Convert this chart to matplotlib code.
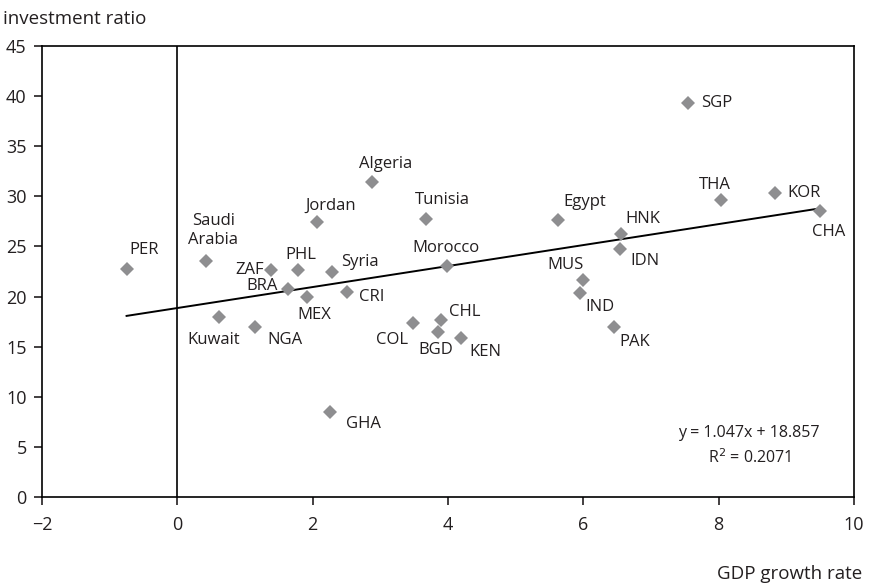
import matplotlib.pyplot as plt

plt.rcParams['font.family'] = ['Open Sans', 'DejaVu Sans']

countries = ['PER', 'Saudi\nArabia', 'ZAF', 'PHL', 'Syria', 'BRA', 'MEX', 'CRI', 'Kuwait', 'NGA',
             'Jordan', 'Algeria', 'Tunisia', 'Morocco', 'COL', 'CHL', 'BGD', 'KEN', 'Egypt',
             'HNK', 'IDN', 'MUS', 'IND', 'PAK', 'SGP', 'THA', 'KOR', 'CHA', 'GHA']
gdp_growth = [-0.75, 0.43, 1.38, 1.78, 2.28, 1.64, 1.91, 2.51, 0.62, 1.15,
              2.07, 2.87, 3.68, 3.98, 3.49, 3.89, 3.85, 4.19, 5.62,
              6.55, 6.54, 5.99, 5.95, 6.45, 7.54, 8.03, 8.83, 9.50, 2.25]
invest_ratio = [22.8, 23.5, 22.7, 22.7, 22.5, 20.8, 20.0, 20.5, 18.0, 17.0,
                27.4, 31.4, 27.7, 23.1, 17.4, 17.7, 16.5, 15.9, 27.6,
                26.2, 24.7, 21.7, 20.4, 17.0, 39.3, 29.6, 30.3, 28.5, 8.5]

# label offsets in pixels (dx, dy)
offsets = [(18, 19), (7, 31), (-21, 0), (3, 15), (28, 10), (-26, 3), (8, -18), (25, -5), (-6, -23), (30, -13),
           (13, 17), (14, 18), (16, 19), (-1, 18), (-21, -17), (24, 8), (-2, -18), (25, -14), (27, 18),
           (22, 15), (25, -12), (-17, 15), (20, -14), (21, -15), (29, 0), (-6, 15), (29, 0), (8, -21), (34, -12)]

slope = 1.047
intercept = 18.857

fig = plt.figure(figsize=(8.71, 5.87), dpi=100)
ax = fig.add_axes([0.0482, 0.1533, 0.9323, 0.7683])

ax.axvline(0, color='black', lw=1.2, zorder=1)
x_fit = [min(gdp_growth), max(gdp_growth)]
ax.plot(x_fit, [slope * v + intercept for v in x_fit], color='black', lw=1.4, zorder=2)
ax.plot(gdp_growth, invest_ratio, 'D', color='#8e8e90', markersize=7.5, markeredgewidth=0, zorder=3)

for name, x, y, off in zip(countries, gdp_growth, invest_ratio, offsets):
    ax.annotate(name, (x, y), xytext=off, textcoords='offset pixels',
                ha='center', va='center', fontsize=12, color='#231f20',
                linespacing=1.2)

ax.text(0.87, 0.142, 'y = 1.047x + 18.857', transform=ax.transAxes, ha='center', va='center',
        fontsize=11.5, color='#231f20')
ax.text(0.872, 0.088, 'R$^2$ = 0.2071', transform=ax.transAxes, ha='center', va='center',
        fontsize=11.5, color='#231f20')

ax.set_xlim(-2, 10)
ax.set_ylim(0, 45)
ax.set_xticks(range(-2, 11, 2))
ax.set_yticks(range(0, 46, 5))
ax.tick_params(direction='out', length=6, width=1.2, labelsize=13, colors='#231f20')
ax.tick_params(axis='x', pad=8)
ax.tick_params(axis='y', pad=5)
for s in ax.spines.values():
    s.set_linewidth(1.2)
    s.set_color('black')

fig.text(0.003, 0.968, 'investment ratio', fontsize=13.5, ha='left', va='center', color='#231f20')
fig.text(0.99, 0.022, 'GDP growth rate', fontsize=13.5, ha='right', va='center', color='#231f20')

fig.savefig('out.png', dpi=100)
